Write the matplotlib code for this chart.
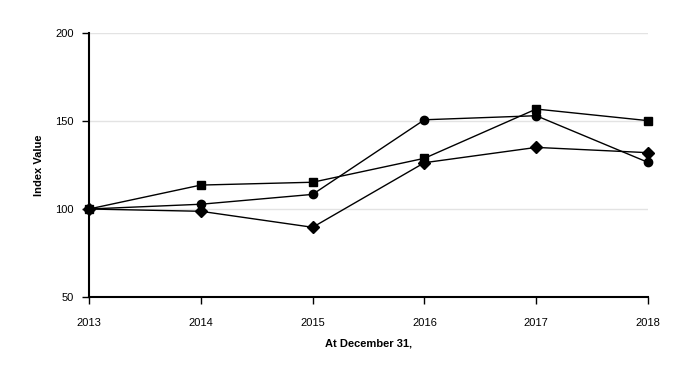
import matplotlib
matplotlib.use('Agg')
import matplotlib.pyplot as plt

plt.rcParams['font.family'] = ['Liberation Sans', 'DejaVu Sans']

years = [2013, 2014, 2015, 2016, 2017, 2018]
circle_vals = [100, 102.7, 108.3, 150.7, 153.0, 126.5]
square_vals = [100, 113.6, 115.2, 128.8, 156.8, 150.2]
diamond_vals = [100, 98.7, 89.6, 126.3, 135.0, 132.0]
y_ticks = [50, 100, 150, 200]

fig = plt.figure(figsize=(6.82, 3.77), dpi=100)
ax = fig.add_axes([89 / 682, 80 / 377, 559 / 682, 264 / 377])

for y in y_ticks[1:]:
    ax.axhline(y, color='#e3e3e3', lw=1, zorder=0)

ax.plot(years, circle_vals, 'k-', marker='o', ms=6, lw=1, clip_on=False)
ax.plot(years, square_vals, 'k-', marker='s', ms=6, lw=1, clip_on=False)
ax.plot(years, diamond_vals, 'k-', marker='D', ms=6, lw=1, clip_on=False)

ax.set_xlim(2013, 2018)
ax.set_ylim(50, 200)
ax.set_xticks(years)
ax.set_yticks(y_ticks)
ax.tick_params(labelsize=8, length=5, width=1, color='black', pad=10)
ax.tick_params(axis='y', pad=6)
for side in ['top', 'right']:
    ax.spines[side].set_visible(False)
for side in ['left', 'bottom']:
    ax.spines[side].set_linewidth(1.5)
ax.set_xlabel('At December 31,', fontsize=8, fontweight='bold', labelpad=8)
ax.set_ylabel('Index Value', fontsize=8, fontweight='bold', labelpad=8)

plt.savefig('out.png', dpi=100)
